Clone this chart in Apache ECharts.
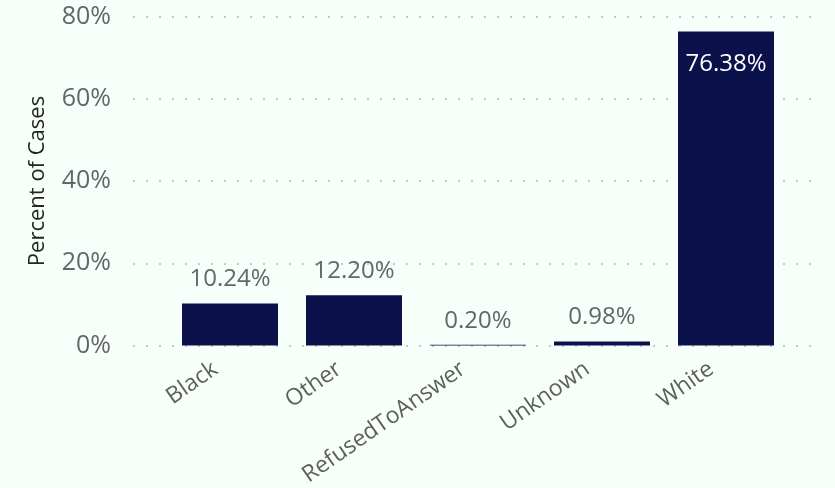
<!DOCTYPE html>
<html><head><meta charset="utf-8">
<script src="https://cdn.jsdelivr.net/npm/echarts@6/dist/echarts.min.js"></script>
<style>html,body{margin:0;padding:0;background:#f6fffa;}#c{width:835px;height:488px;}</style>
</head><body><div id="c"></div>
<script>
const categories = ['Black', 'Other', 'RefusedToAnswer', 'Unknown', 'White'];
const percentValues = [10.24, 12.20, 0.20, 0.98, 76.38];
const yTicks = [0, 20, 40, 60, 80];
const yAxisTitle = 'Percent of Cases';

const font = '"Open Sans", "Noto Sans", sans-serif';
const chart = echarts.init(document.getElementById('c'), null, {renderer: 'canvas'});
const gridTop = 16.5, gridBottom = 142.5;
chart.setOption({
  backgroundColor: '#f6fffa',
  animation: false,
  grid: [
    {left: 133, right: 17, top: gridTop, bottom: gridBottom, outerBoundsMode: 'none', containLabel: false},
    {left: 168, right: 47, top: gridTop, bottom: gridBottom, outerBoundsMode: 'none', containLabel: false}
  ],
  xAxis: [
    {gridIndex: 0, type: 'category', data: categories, show: false},
    {gridIndex: 1, type: 'category', data: categories,
     axisLine: {show: false}, axisTick: {show: false},
     axisLabel: {rotate: 35, margin: -3, fontSize: 23, color: '#605e5c', fontFamily: font, interval: 0,
                 verticalAlign: 'top', padding: [0, 26, 0, 0]}}
  ],
  yAxis: [
    {gridIndex: 0, type: 'value', min: yTicks[0], max: yTicks[yTicks.length - 1], interval: 20,
     axisLine: {show: false}, axisTick: {show: false},
     axisLabel: {formatter: '{value}%', fontSize: 25, color: '#666666', fontFamily: font, margin: 22},
     splitLine: {show: true, lineStyle: {color: '#c8c8c8', width: 2, type: [2, 11]}},
     name: yAxisTitle, nameLocation: 'middle', nameGap: 84,
     nameTextStyle: {fontSize: 22, color: '#252423', fontFamily: font}},
    {gridIndex: 1, type: 'value', min: yTicks[0], max: yTicks[yTicks.length - 1], interval: 20, show: false}
  ],
  series: [{
    type: 'bar', xAxisIndex: 1, yAxisIndex: 1,
    data: percentValues.map((v, i) => ({
      value: v,
      label: i === percentValues.length - 1
        ? {position: 'insideTop', distance: 21, color: '#ffffff'}
        : {position: 'top', distance: 12, color: '#666666'}
    })),
    barCategoryGap: '22.6%',
    itemStyle: {color: '#0b114a'},
    label: {show: true, formatter: p => p.value.toFixed(2) + '%', fontSize: 24, fontFamily: font}
  }]
});
</script></body></html>
